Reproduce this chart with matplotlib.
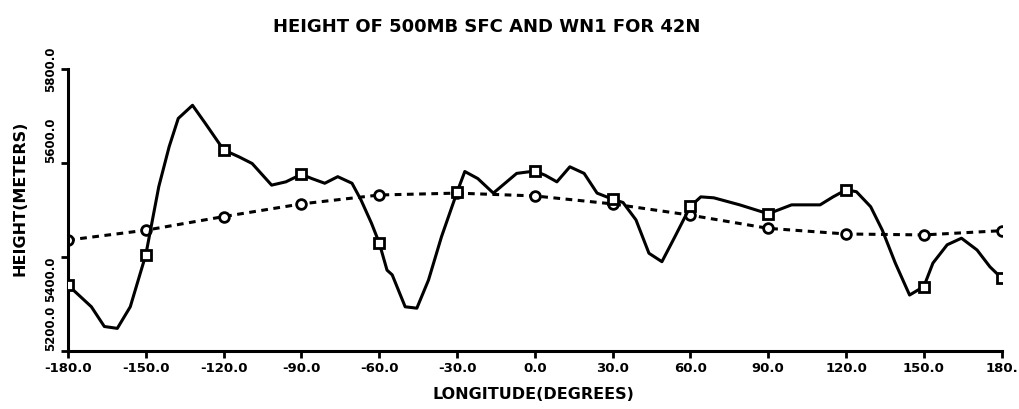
import matplotlib
matplotlib.use("Agg")
import matplotlib.pyplot as plt

# 500mb height along 42N (solid) and wave number 1 fit (dashed)
lon_sfc = [-180, -171, -166, -161, -156, -150, -145, -141, -137.5, -132, -127,
           -120, -114, -109, -101.5, -96, -90, -86, -81, -76, -70.5, -67, -63,
           -60, -57, -55, -52.5, -50, -45.5, -41, -36, -30, -27, -22, -16, -7,
           0, 4, 8.5, 13.5, 19, 24, 30, 34, 39, 44, 49, 54, 60, 64, 69, 79,
           90, 99, 110, 115, 120, 124, 129.5, 134, 139, 144.5, 150, 153.5, 159,
           164.5, 170.5, 175.5, 180]
hgt_sfc = [5340, 5294, 5252, 5248, 5294, 5405, 5550, 5635, 5695, 5723, 5684,
           5628, 5613, 5599, 5553, 5560, 5576, 5567, 5557, 5571, 5557, 5521, 5472,
           5430, 5372, 5362, 5328, 5294, 5291, 5351, 5443, 5538, 5582, 5567, 5536, 5578,
           5583, 5574, 5560, 5592, 5578, 5536, 5523, 5516, 5479, 5408, 5390, 5443,
           5508, 5528, 5526, 5511, 5492, 5511, 5511, 5528, 5543, 5539, 5507, 5457,
           5387, 5319, 5337, 5387, 5426, 5440, 5415, 5379, 5355]

lon_wn1 = [-180, -150, -120, -90, -60, -30, 0, 30, 60, 90, 120, 150, 180]
hgt_wn1 = [5436, 5457, 5486, 5513, 5532, 5536, 5530, 5513, 5489, 5461, 5449,
           5447, 5456]

xticks = [-180, -150, -120, -90, -60, -30, 0, 30, 60, 90, 120, 150, 180]
xlabels = ["-180.0", "-150.0", "-120.0", "-90.0", "-60.0", "-30.0", "0.0",
           "30.0", "60.0", "90.0", "120.0", "150.0", "180."]
yticks = [5200, 5400, 5600, 5800]
ylabels = ["5200.0", "5400.0", "5600.0", "5800.0"]

plt.rcParams['font.family'] = ['DejaVu Sans']
plt.rcParams['font.weight'] = 'bold'

fig = plt.figure(figsize=(10.2, 4.09), dpi=100)
ax = fig.add_axes([0.0667, 0.142, 0.9153, 0.689])

marks = [i for i, x in enumerate(lon_sfc) if x % 30 == 0]
ax.plot(lon_sfc, hgt_sfc, color='black', lw=2.2, marker='s', markevery=marks,
        ms=7, mfc='white', mec='black', mew=2, zorder=3)
ax.plot(lon_wn1, hgt_wn1, color='black', lw=2.2, ls=(0, (2.2, 1.8)),
        marker='o', ms=7, mfc='white', mec='black', mew=2, zorder=2)

ax.set_xlim(-180, 180)
ax.set_ylim(5200, 5800)
ax.set_xticks(xticks)
ax.set_xticklabels(xlabels, fontsize=9.5, fontweight='bold')
ax.set_yticks(yticks)
ax.set_yticklabels(ylabels, fontsize=8.5, fontweight='bold', rotation=90)
# the old plotter put the labels a bit off the ticks
for lab, va in zip(ax.get_yticklabels(), ['bottom', 'top', 'bottom', 'center']):
    lab.set_va(va)
ax.tick_params(direction='out', length=5, width=2, pad=3)

for s in ['top', 'right']:
    ax.spines[s].set_visible(False)
for s in ['left', 'bottom']:
    ax.spines[s].set_linewidth(2.2)

fig.text(0.477, 0.935, "HEIGHT OF 500MB SFC AND WN1 FOR 42N", ha='center',
         va='center', fontsize=13, fontweight='bold')
fig.text(0.523, 0.035, "LONGITUDE(DEGREES)", ha='center', va='center',
         fontsize=11.5, fontweight='bold')
fig.text(0.02, 0.515, "HEIGHT(METERS)", ha='center', va='center',
         rotation=90, fontsize=11.5, fontweight='bold')

fig.savefig("out.png", dpi=100)
